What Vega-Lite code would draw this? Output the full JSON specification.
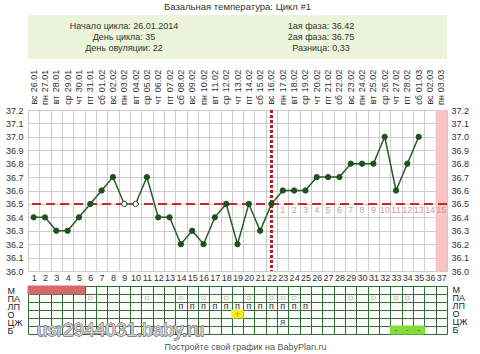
{
  "$schema": "https://vega.github.io/schema/vega-lite/v6.json",
  "background": "white",
  "padding": {"left": 5, "right": 5, "top": 1, "bottom": 0},
  "spacing": 0,
  "resolve": {"scale": {"fill": "independent", "color": "independent", "stroke": "independent"}},
  "config": {
    "font": "Liberation Sans",
    "view": {"stroke": null},
    "axis": {"labelFont": "Liberation Sans", "labelColor": "#333333", "labelFontSize": 9, "domain": false, "ticks": false, "title": null, "labelOverlap": false},
    "title": {"font": "Liberation Sans", "fontWeight": "normal", "color": "#333333"}
  },
  "datasets": {
    "header": [
      {"col": "left", "line": 1, "text": "Начало цикла: 26.01.2014"},
      {"col": "left", "line": 2, "text": "День цикла: 35"},
      {"col": "left", "line": 3, "text": "День овуляции: 22"},
      {"col": "right", "line": 1, "text": "1ая фаза: 36.42"},
      {"col": "right", "line": 2, "text": "2ая фаза: 36.75"},
      {"col": "right", "line": 3, "text": "Разница: 0,33"}
    ],
    "days": [
      {"day": 1, "date": "26.01", "dow": "вс", "temp": 36.4, "status": "normal"},
      {"day": 2, "date": "27.01", "dow": "пн", "temp": 36.4, "status": "normal"},
      {"day": 3, "date": "28.01", "dow": "вт", "temp": 36.3, "status": "normal"},
      {"day": 4, "date": "29.01", "dow": "ср", "temp": 36.3, "status": "normal"},
      {"day": 5, "date": "30.01", "dow": "чт", "temp": 36.4, "status": "normal"},
      {"day": 6, "date": "31.01", "dow": "пт", "temp": 36.5, "status": "normal"},
      {"day": 7, "date": "01.02", "dow": "сб", "temp": 36.6, "status": "normal"},
      {"day": 8, "date": "02.02", "dow": "вс", "temp": 36.7, "status": "normal"},
      {"day": 9, "date": "03.02", "dow": "пн", "temp": 36.5, "status": "excluded"},
      {"day": 10, "date": "04.02", "dow": "вт", "temp": 36.5, "status": "excluded"},
      {"day": 11, "date": "05.02", "dow": "ср", "temp": 36.7, "status": "normal"},
      {"day": 12, "date": "06.02", "dow": "чт", "temp": 36.4, "status": "normal"},
      {"day": 13, "date": "07.02", "dow": "пт", "temp": 36.4, "status": "normal"},
      {"day": 14, "date": "08.02", "dow": "сб", "temp": 36.2, "status": "normal"},
      {"day": 15, "date": "09.02", "dow": "вс", "temp": 36.3, "status": "normal"},
      {"day": 16, "date": "10.02", "dow": "пн", "temp": 36.2, "status": "normal"},
      {"day": 17, "date": "11.02", "dow": "вт", "temp": 36.4, "status": "normal"},
      {"day": 18, "date": "12.02", "dow": "ср", "temp": 36.5, "status": "normal"},
      {"day": 19, "date": "13.02", "dow": "чт", "temp": 36.2, "status": "normal"},
      {"day": 20, "date": "14.02", "dow": "пт", "temp": 36.5, "status": "normal"},
      {"day": 21, "date": "15.02", "dow": "сб", "temp": 36.3, "status": "normal"},
      {"day": 22, "date": "16.02", "dow": "вс", "temp": 36.5, "status": "normal"},
      {"day": 23, "date": "17.02", "dow": "пн", "temp": 36.6, "status": "normal", "lut": 1},
      {"day": 24, "date": "18.02", "dow": "вт", "temp": 36.6, "status": "normal", "lut": 2},
      {"day": 25, "date": "19.02", "dow": "ср", "temp": 36.6, "status": "normal", "lut": 3},
      {"day": 26, "date": "20.02", "dow": "чт", "temp": 36.7, "status": "normal", "lut": 4},
      {"day": 27, "date": "21.02", "dow": "пт", "temp": 36.7, "status": "normal", "lut": 5},
      {"day": 28, "date": "22.02", "dow": "сб", "temp": 36.7, "status": "normal", "lut": 6},
      {"day": 29, "date": "23.02", "dow": "вс", "temp": 36.8, "status": "normal", "lut": 7},
      {"day": 30, "date": "24.02", "dow": "пн", "temp": 36.8, "status": "normal", "lut": 8},
      {"day": 31, "date": "25.02", "dow": "вт", "temp": 36.8, "status": "normal", "lut": 9},
      {"day": 32, "date": "26.02", "dow": "ср", "temp": 37.0, "status": "normal", "lut": 10},
      {"day": 33, "date": "27.02", "dow": "чт", "temp": 36.6, "status": "normal", "lut": 11},
      {"day": 34, "date": "28.02", "dow": "пт", "temp": 36.8, "status": "normal", "lut": 12},
      {"day": 35, "date": "01.03", "dow": "сб", "temp": 37.0, "status": "normal", "lut": 13},
      {"day": 36, "date": "02.03", "dow": "вс", "temp": null, "lut": 14},
      {"day": 37, "date": "03.03", "dow": "пн", "temp": null, "lut": 15, "zone": "forecast"}
    ],
    "grid": [
      {"day": 1, "row": "М", "cell": "menses"},
      {"day": 2, "row": "М", "cell": "menses"},
      {"day": 3, "row": "М", "cell": "menses"},
      {"day": 4, "row": "М", "cell": "menses"},
      {"day": 5, "row": "М", "cell": "menses"},
      {"day": 6, "row": "ПА", "sym": "o"},
      {"day": 11, "row": "ПА", "sym": "o"},
      {"day": 14, "row": "ПА", "sym": "o"},
      {"day": 16, "row": "ПА", "sym": "o"},
      {"day": 18, "row": "ПА", "sym": "o"},
      {"day": 20, "row": "ПА", "sym": "o"},
      {"day": 22, "row": "ПА", "sym": "o"},
      {"day": 23, "row": "ПА", "sym": "o"},
      {"day": 24, "row": "ПА", "sym": "o"},
      {"day": 29, "row": "ПА", "sym": "o"},
      {"day": 31, "row": "ПА", "sym": "o"},
      {"day": 33, "row": "ПА", "sym": "o"},
      {"day": 34, "row": "ПА", "sym": "o"},
      {"day": 14, "row": "ЛП", "sym": "п"},
      {"day": 15, "row": "ЛП", "sym": "п"},
      {"day": 16, "row": "ЛП", "sym": "п"},
      {"day": 17, "row": "ЛП", "sym": "п"},
      {"day": 18, "row": "ЛП", "sym": "п"},
      {"day": 19, "row": "ЛП", "sym": "п"},
      {"day": 20, "row": "ЛП", "sym": "п"},
      {"day": 21, "row": "ЛП", "sym": "п"},
      {"day": 22, "row": "ЛП", "sym": "п"},
      {"day": 23, "row": "ЛП", "sym": "п"},
      {"day": 24, "row": "ЛП", "sym": "п"},
      {"day": 25, "row": "ЛП", "sym": "п"},
      {"day": 19, "row": "О", "cell": "test", "sym": "+"},
      {"day": 23, "row": "ЦЖ", "sym": "я"},
      {"day": 33, "row": "Б", "cell": "pain", "sym": "-"},
      {"day": 34, "row": "Б", "cell": "pain", "sym": "-"},
      {"day": 35, "row": "Б", "cell": "pain", "sym": "-"}
    ]
  },
  "vconcat": [
    {
      "width": 419,
      "height": 44,
      "title": {"text": "Базальная температура: Цикл #1", "fontSize": 9.5, "anchor": "middle", "offset": 4, "color": "#333333"},
      "view": {"fill": "#ecf5da", "stroke": null},
      "data": {"name": "header"},
      "mark": {"type": "text", "fontSize": 9, "color": "#333333"},
      "encoding": {
        "x": {"field": "col", "type": "nominal", "scale": {"type": "point", "domain": ["left", "right"], "range": [96, 293], "padding": 0}, "axis": null},
        "y": {"field": "line", "type": "ordinal", "scale": {"type": "point", "domain": [1, 2, 3], "padding": 1}, "axis": null},
        "text": {"field": "text"}
      }
    },
    {
      "width": 419,
      "height": 47,
      "data": {"name": "days"},
      "transform": [{"fold": ["date", "dow"], "as": ["kind", "label"]}],
      "mark": {"type": "text", "angle": 270, "fontSize": 9, "color": "#333333", "align": "center", "baseline": "middle"},
      "encoding": {
        "x": {"field": "day", "type": "ordinal", "scale": {"type": "band", "domain": [1,2,3,4,5,6,7,8,9,10,11,12,13,14,15,16,17,18,19,20,21,22,23,24,25,26,27,28,29,30,31,32,33,34,35,36,37], "paddingInner": 0, "paddingOuter": 0}, "axis": null},
        "y": {"field": "kind", "type": "nominal", "scale": {"type": "point", "domain": ["date", "dow"], "range": [22, 41], "padding": 0}, "axis": null},
        "text": {"field": "label"}
      }
    },
    {
      "width": 419,
      "height": 161,
      "data": {"name": "days"},
      "resolve": {"axis": {"y": "independent"}},
      "layer": [
        {
          "transform": [{"filter": "datum.zone == 'forecast'"}],
          "mark": {"type": "rect", "color": "#f7c4c4"},
          "encoding": {
            "x": {"field": "day", "type": "ordinal", "scale": {"type": "band", "domain": [1,2,3,4,5,6,7,8,9,10,11,12,13,14,15,16,17,18,19,20,21,22,23,24,25,26,27,28,29,30,31,32,33,34,35,36,37], "paddingInner": 0, "paddingOuter": 0},
              "axis": {"orient": "bottom", "grid": true, "gridColor": "#cccccc", "tickBand": "extent", "labelAngle": 0, "labelPadding": 2, "labelFontSize": 9, "zindex": 0}}
          }
        },
        {
          "transform": [{"filter": "isValid(datum.temp)"}],
          "mark": {"type": "line", "color": "#265c26", "strokeWidth": 1.5},
          "encoding": {
            "x": {"field": "day", "type": "ordinal"},
            "y": {"field": "temp", "type": "quantitative", "scale": {"domain": [36.0, 37.2], "zero": false, "nice": false},
              "axis": {"orient": "left", "values": [36.0,36.1,36.2,36.3,36.4,36.5,36.6,36.7,36.8,36.9,37.0,37.1,37.2], "format": ".1f", "grid": true, "gridColor": "#cccccc", "labelPadding": 5, "zindex": 0}}
          }
        },
        {
          "mark": {"type": "rule", "color": "#c8282d", "strokeWidth": 1.6, "strokeDash": [9, 5]},
          "encoding": {"y": {"datum": 36.5, "type": "quantitative", "axis": null}}
        },
        {
          "mark": {"type": "rule", "color": "#b32020", "strokeWidth": 1.4, "strokeDash": [3, 2]},
          "encoding": {"x": {"datum": 22, "type": "ordinal"}}
        },
        {
          "transform": [{"filter": "isValid(datum.temp)"}],
          "mark": {"type": "circle", "size": 28, "stroke": "#1d521d", "strokeWidth": 1, "opacity": 1},
          "encoding": {
            "x": {"field": "day", "type": "ordinal"},
            "y": {"field": "temp", "type": "quantitative",
              "axis": {"orient": "right", "values": [36.0,36.1,36.2,36.3,36.4,36.5,36.6,36.7,36.8,36.9,37.0,37.1,37.2], "format": ".1f", "grid": false, "labelPadding": 4}},
            "fill": {"field": "status", "type": "nominal", "scale": {"domain": ["normal", "excluded"], "range": ["#1d521d", "#ffffff"]}, "legend": null}
          }
        },
        {
          "transform": [{"filter": "isValid(datum.lut)"}],
          "mark": {"type": "text", "fontSize": 9, "color": "#c9a0a0", "baseline": "top", "dy": 2},
          "encoding": {
            "x": {"field": "day", "type": "ordinal"},
            "y": {"datum": 36.5, "type": "quantitative", "axis": null},
            "text": {"field": "lut"}
          }
        }
      ]
    },
    {
      "width": 419,
      "height": 48,
      "data": {"name": "grid"},
      "title": {"text": "Постройте свой график на BabyPlan.ru", "orient": "bottom", "fontSize": 9, "color": "#555555", "anchor": "middle", "offset": 3, "dx": 8},
      "resolve": {"axis": {"y": "independent"}},
      "layer": [
        {
          "transform": [{"filter": "isValid(datum.cell)"}],
          "mark": {"type": "rect", "strokeWidth": 1},
          "encoding": {
            "x": {"field": "day", "type": "ordinal", "scale": {"type": "band", "domain": [1,2,3,4,5,6,7,8,9,10,11,12,13,14,15,16,17,18,19,20,21,22,23,24,25,26,27,28,29,30,31,32,33,34,35,36,37], "paddingInner": 0, "paddingOuter": 0},
              "axis": {"orient": "bottom", "grid": true, "gridColor": "#2f6f2f", "tickBand": "extent", "labels": false, "zindex": 0}},
            "y": {"field": "row", "type": "nominal", "scale": {"type": "band", "domain": ["М", "ПА", "ЛП", "О", "ЦЖ", "Б"], "paddingInner": 0, "paddingOuter": 0},
              "axis": {"orient": "left", "grid": true, "gridColor": "#2f6f2f", "tickBand": "extent", "labelAlign": "left", "labelPadding": 21, "labelFontSize": 9, "labelColor": "#222222", "zindex": 0}},
            "fill": {"field": "cell", "type": "nominal", "scale": {"domain": ["menses", "test", "pain"], "range": ["#d46a6a", "#f4f01e", "#84dc3a"]}, "legend": null},
            "stroke": {"field": "cell", "type": "nominal", "scale": {"domain": ["menses", "test", "pain"], "range": ["#d46a6a", "#f4f01e", "#84dc3a"]}, "legend": null}
          }
        },
        {
          "transform": [{"filter": "datum.row == 'ПА'"}],
          "mark": {"type": "point", "shape": "circle", "filled": false, "size": 16, "stroke": "#e08e8e", "strokeWidth": 1},
          "encoding": {
            "x": {"field": "day", "type": "ordinal"},
            "y": {"field": "row", "type": "nominal", "axis": null}
          }
        },
        {
          "transform": [{"filter": "isValid(datum.sym) && datum.row != 'ПА'"}],
          "mark": {"type": "text", "fontSize": 9, "baseline": "middle"},
          "encoding": {
            "x": {"field": "day", "type": "ordinal"},
            "y": {"field": "row", "type": "nominal",
              "axis": {"orient": "right", "grid": false, "labelAlign": "left", "labelPadding": 5, "labelFontSize": 9, "labelColor": "#222222"}},
            "text": {"field": "sym"},
            "color": {"field": "row", "type": "nominal", "scale": {"domain": ["ЛП", "О", "ЦЖ", "Б"], "range": ["#222222", "#d88a00", "#444444", "#3a7a20"]}, "legend": null}
          }
        },
        {
          "mark": {"type": "text", "text": "usr2944031.baby.ru", "fontSize": 19, "align": "left", "baseline": "alphabetic", "dx": 3, "dy": 6, "fill": "#e8e8e8", "fillOpacity": 0.7, "stroke": "#8c8c8c", "strokeWidth": 0.6, "strokeOpacity": 0.65},
          "encoding": {
            "x": {"datum": 1, "type": "ordinal"},
            "y": {"datum": "Б", "type": "nominal", "axis": null}
          }
        }
      ]
    }
  ]
}
